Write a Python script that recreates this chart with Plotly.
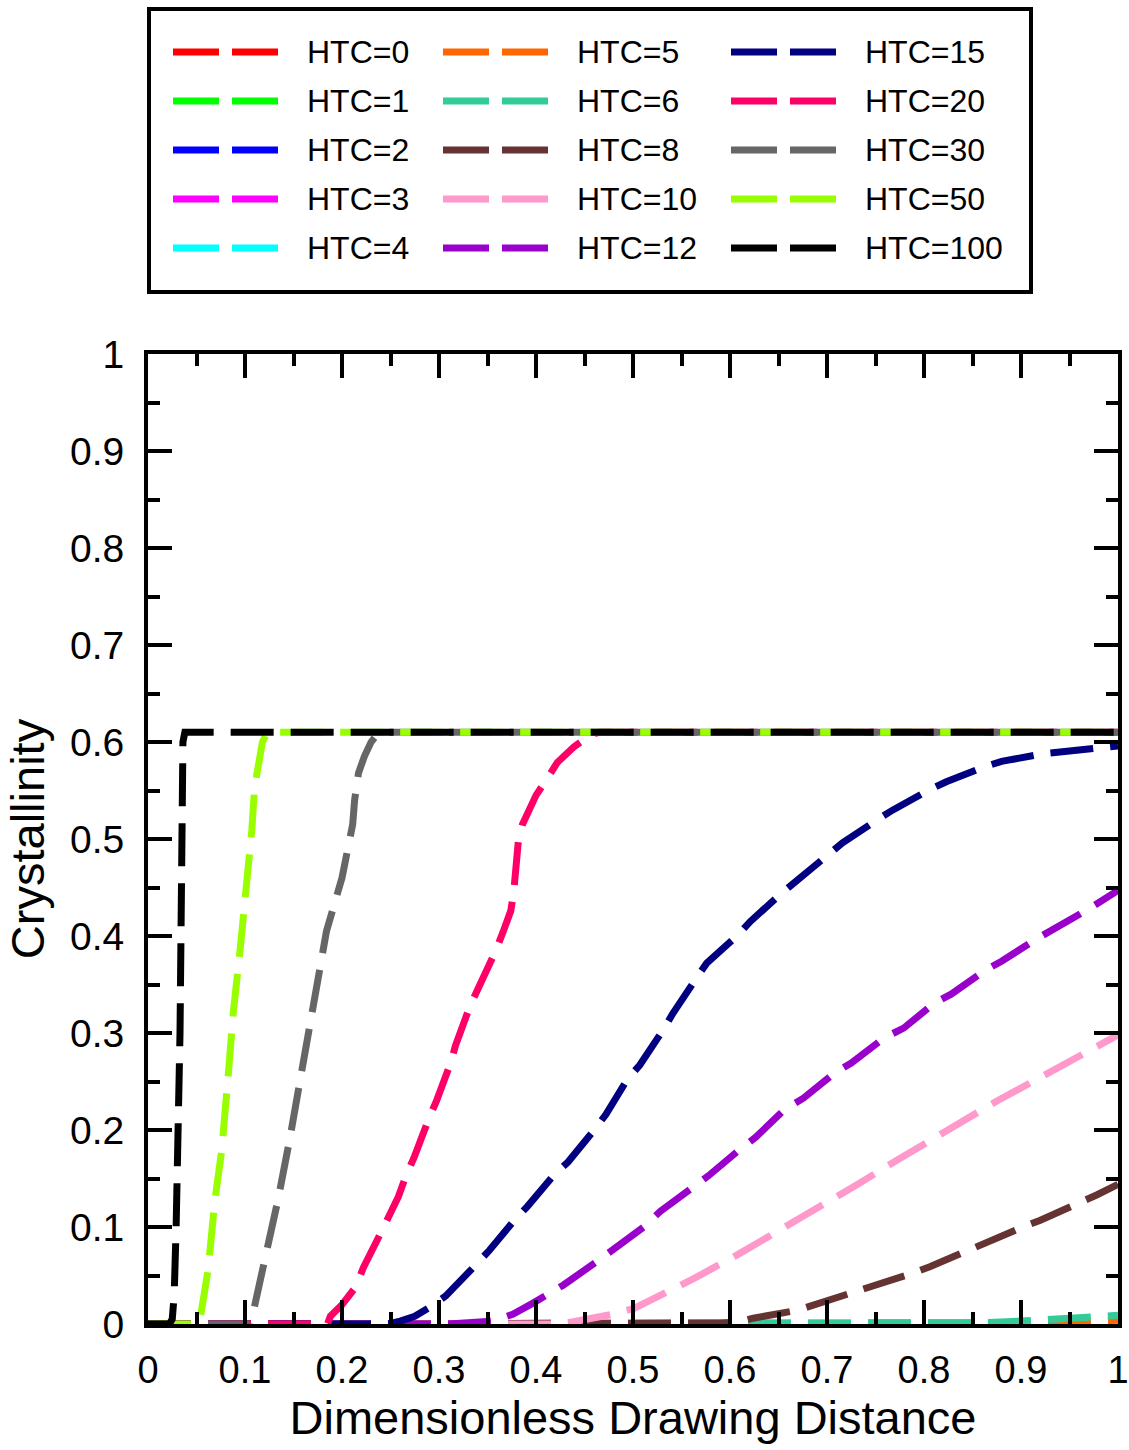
import plotly.graph_objects as go

# ---- series data: crystallinity vs dimensionless drawing distance ----
htc_names = ["HTC=0", "HTC=1", "HTC=2", "HTC=3", "HTC=4", "HTC=5", "HTC=6", "HTC=8",
             "HTC=10", "HTC=12", "HTC=15", "HTC=20", "HTC=30", "HTC=50", "HTC=100"]
htc_colors = ["#FF0000", "#00FF00", "#0000FF", "#FF00FF", "#00FFFF", "#FF6600", "#33CC99",
              "#663333", "#FF99CC", "#9900CC", "#000080", "#FF0066", "#666666", "#99FF00",
              "#000000"]

x_flat = [0.0, 1.0]
y_flat = [0.0, 0.0]

x_htc5 = [0.0, 0.88, 0.95, 1.0]
y_htc5 = [0.0, 0.0, 0.0015, 0.004]

x_htc6 = [0.0, 0.80, 0.85, 0.90, 0.94, 0.983, 1.0]
y_htc6 = [0.0, 0.0, 0.001, 0.003, 0.006, 0.0086, 0.009]

x_htc8 = [0.0, 0.56, 0.59, 0.608, 0.624, 0.669, 0.688, 0.729, 0.748, 0.787, 0.806,
          0.844, 0.863, 0.902, 0.92, 0.959, 0.978, 1.0]
y_htc8 = [0.0, 0.0, 0.001, 0.002, 0.006, 0.014, 0.02, 0.032, 0.038, 0.052, 0.059,
          0.076, 0.083, 0.10, 0.107, 0.124, 0.133, 0.144]

x_htc10 = [0.0, 0.42, 0.437, 0.46, 0.479, 0.501, 0.55, 0.563, 0.607, 0.619, 0.661, 0.676,
           0.715, 0.73, 0.769, 0.784, 0.823, 0.84, 0.877, 0.894, 0.931, 0.951, 0.985, 1.0]
y_htc10 = [0.0, 0.0, 0.002, 0.006, 0.01, 0.016, 0.04, 0.047, 0.071, 0.078, 0.102, 0.11,
           0.134, 0.143, 0.167, 0.176, 0.20, 0.209, 0.231, 0.24, 0.26, 0.272, 0.29, 0.298]

x_htc12 = [0.0, 0.31, 0.356, 0.376, 0.396, 0.428, 0.465, 0.479, 0.511, 0.528, 0.56, 0.578,
           0.609, 0.627, 0.656, 0.676, 0.708, 0.725, 0.759, 0.779, 0.811, 0.828, 0.862,
           0.88, 0.916, 0.934, 0.97, 1.0]
y_htc12 = [0.0, 0.0, 0.003, 0.01, 0.021, 0.04, 0.066, 0.076, 0.10, 0.116, 0.14, 0.153,
           0.179, 0.193, 0.221, 0.233, 0.259, 0.269, 0.295, 0.305, 0.331, 0.34, 0.364,
           0.374, 0.397, 0.407, 0.428, 0.447]

x_htc15 = [0.0, 0.248, 0.26, 0.275, 0.29, 0.307, 0.337, 0.352, 0.376, 0.391, 0.418, 0.433,
           0.46, 0.472, 0.494, 0.507, 0.531, 0.541, 0.565, 0.576, 0.608, 0.621, 0.653,
           0.668, 0.701, 0.716, 0.752, 0.768, 0.806, 0.823, 0.864, 0.88, 0.923, 0.942,
           0.987, 1.0]
y_htc15 = [0.0, 0.0, 0.003, 0.008, 0.017, 0.029, 0.06, 0.076, 0.105, 0.121, 0.153, 0.167,
           0.20, 0.216, 0.252, 0.267, 0.303, 0.32, 0.356, 0.372, 0.401, 0.415, 0.444,
           0.456, 0.484, 0.496, 0.52, 0.53, 0.551, 0.559, 0.575, 0.58, 0.588, 0.59,
           0.595, 0.596]

x_htc20 = [0.0, 0.185, 0.188, 0.20, 0.214, 0.222, 0.241, 0.249, 0.258, 0.266, 0.274, 0.29,
           0.297, 0.312, 0.317, 0.332, 0.341, 0.359, 0.366, 0.374, 0.377, 0.379, 0.382,
           0.386, 0.392, 0.40, 0.412, 0.422, 0.439, 0.456, 0.465, 1.0]
y_htc20 = [0.0, 0.0, 0.008, 0.02, 0.038, 0.058, 0.096, 0.113, 0.131, 0.153, 0.171, 0.213,
           0.229, 0.269, 0.287, 0.328, 0.346, 0.386, 0.404, 0.426, 0.445, 0.47, 0.50,
           0.515, 0.527, 0.545, 0.563, 0.579, 0.595, 0.607, 0.61, 0.61]

x_htc30 = [0.0, 0.105, 0.108, 0.115, 0.121, 0.134, 0.146, 0.16, 0.172, 0.184, 0.20, 0.206,
           0.211, 0.213, 0.217, 0.223, 0.23, 0.238, 1.0]
y_htc30 = [0.0, 0.0, 0.01, 0.04, 0.066, 0.128, 0.19, 0.27, 0.34, 0.405, 0.46, 0.49,
           0.515, 0.54, 0.568, 0.585, 0.60, 0.61, 0.61]

x_htc50 = [0.0, 0.052, 0.055, 0.062, 0.069, 0.076, 0.083, 0.088, 0.095, 0.102, 0.107,
           0.11, 0.114, 0.118, 0.123, 1.0]
y_htc50 = [0.0, 0.0, 0.013, 0.056, 0.128, 0.179, 0.26, 0.322, 0.386, 0.45, 0.509,
           0.554, 0.575, 0.60, 0.61, 0.61]

x_htc100 = [0.0, 0.022, 0.025, 0.027, 0.029, 0.031, 0.033, 0.034, 0.035, 0.036, 0.038, 1.0]
y_htc100 = [0.0, 0.0, 0.005, 0.03, 0.10, 0.18, 0.30, 0.40, 0.50, 0.60, 0.61, 0.61]

series_x = [x_flat, x_flat, x_flat, x_flat, x_flat, x_htc5, x_htc6, x_htc8, x_htc10,
            x_htc12, x_htc15, x_htc20, x_htc30, x_htc50, x_htc100]
series_y = [y_flat, y_flat, y_flat, y_flat, y_flat, y_htc5, y_htc6, y_htc8, y_htc10,
            y_htc12, y_htc15, y_htc20, y_htc30, y_htc50, y_htc100]

x_tick_vals = [0, 0.1, 0.2, 0.3, 0.4, 0.5, 0.6, 0.7, 0.8, 0.9, 1]
x_tick_text = ["0", "0.1", "0.2", "0.3", "0.4", "0.5", "0.6", "0.7", "0.8", "0.9", "1"]
y_tick_vals = x_tick_vals
y_tick_text = x_tick_text

# ---- figure geometry (pixels) ----
W, H = 1129, 1450
L, R, T, B = 148, 11, 354, 126
plot_w = W - L - R
plot_h = H - T - B
FONT = "Liberation Sans, Arial, sans-serif"


def px_to_paper(px, py):
    return (px - L) / plot_w, (H - B - py) / plot_h


fig = go.Figure()
for name, color, xs, ys in zip(htc_names, htc_colors, series_x, series_y):
    fig.add_trace(go.Scatter(
        x=xs, y=ys, mode="lines", name=name, showlegend=False,
        line=dict(color=color, width=7, dash="43px,17px"),
    ))

# ---- legend drawn as a framed block with two-dash samples ----
shapes = []
annotations = []
bx0, by0 = px_to_paper(149, 292)
bx1, by1 = px_to_paper(1031, 9)
shapes.append(dict(type="rect", xref="paper", yref="paper", x0=bx0, y0=by0, x1=bx1, y1=by1,
                   line=dict(color="black", width=4), fillcolor="white", layer="above"))

col_sample_x = [173, 443, 731]
col_text_x = [305, 575, 863]
row_y = [52, 101, 150, 199, 248]
for i, (name, color) in enumerate(zip(htc_names, htc_colors)):
    col, row = divmod(i, 5)
    sx = col_sample_x[col]
    yy = row_y[row]
    for d0 in (sx, sx + 59):
        p0 = px_to_paper(d0, yy)
        p1 = px_to_paper(d0 + 46, yy)
        shapes.append(dict(type="line", xref="paper", yref="paper",
                           x0=p0[0], y0=p0[1], x1=p1[0], y1=p1[1],
                           line=dict(color=color, width=7), layer="above"))
    tx, ty = px_to_paper(col_text_x[col], yy)
    annotations.append(dict(xref="paper", yref="paper", x=tx, y=ty, text=name,
                            showarrow=False, xanchor="left", yanchor="middle",
                            font=dict(family=FONT, size=32, color="black")))

axis_common = dict(
    showgrid=False, zeroline=False, showline=True, linecolor="black", linewidth=4,
    mirror="allticks", ticks="inside", ticklen=24, tickwidth=4, tickcolor="black",
    minor=dict(ticks="inside", ticklen=12, tickwidth=4, tickcolor="black", dtick=0.05),
)

fig.update_layout(
    width=W, height=H,
    margin=dict(l=L, r=R, t=T, b=B, autoexpand=False),
    paper_bgcolor="white", plot_bgcolor="white",
    xaxis=dict(range=[0, 1], tickvals=x_tick_vals, ticktext=x_tick_text,
               tickfont=dict(family=FONT, size=38, color="black"),
               title=dict(text="Dimensionless Drawing Distance", standoff=10,
                          font=dict(family=FONT, size=47, color="black")),
               ticklabelstandoff=9, **axis_common),
    yaxis=dict(range=[0, 1], tickvals=y_tick_vals, ticktext=y_tick_text,
               tickfont=dict(family=FONT, size=39, color="black"),
               title=dict(text="Crystallinity", standoff=12,
                          font=dict(family=FONT, size=47, color="black")),
               ticklabelstandoff=12, **axis_common),
    shapes=shapes,
    annotations=annotations,
    showlegend=False,
)

fig.write_html("out.html")
